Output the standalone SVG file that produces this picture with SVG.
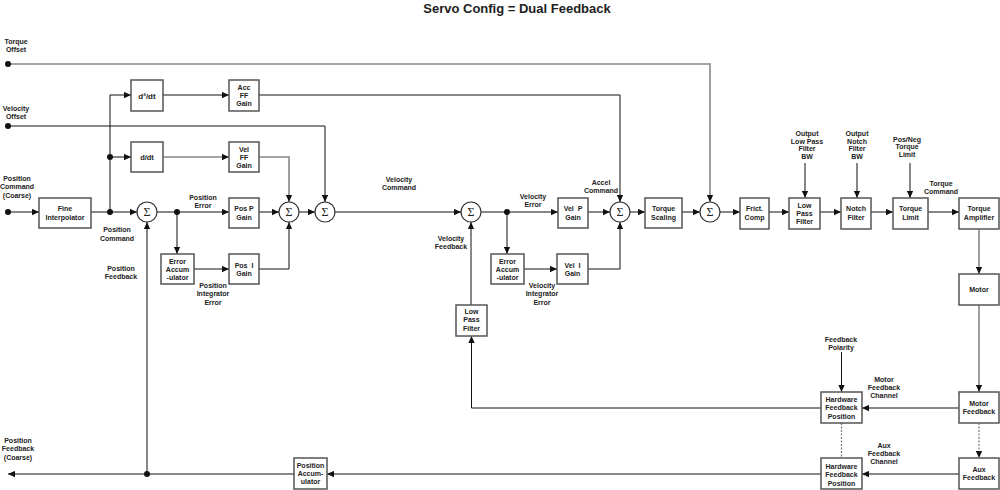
<svg xmlns="http://www.w3.org/2000/svg" width="1000" height="490" viewBox="0 0 1000 490">
<style>
.b{fill:#fff;stroke:#555;stroke-width:1.5}
.s{fill:#fff;stroke:#333;stroke-width:1.2}
.t{font-family:"Liberation Sans",Arial,sans-serif;font-weight:bold;font-size:7px;text-anchor:middle;fill:#222}
.sg{font-family:"Liberation Serif","Times New Roman",serif;font-size:12px;text-anchor:middle;fill:#222}
.k{fill:none;stroke:#111;stroke-width:1}
.g{fill:none;stroke:#888;stroke-width:1.6}
.d{fill:none;stroke:#777;stroke-width:1.2;stroke-dasharray:2,1.5}
.dot{fill:#111}
.ttl{font-family:"Liberation Sans",Arial,sans-serif;font-weight:bold;font-size:13px;text-anchor:middle;fill:#222}
</style>
<defs>
<marker id="a" viewBox="0 0 10 10" refX="10" refY="5" markerWidth="7" markerHeight="7" markerUnits="userSpaceOnUse" orient="auto"><path d="M0,0.5 L10,5 L0,9.5z" fill="#111"/></marker>
</defs>
<rect width="1000" height="490" fill="#fff"/>
<text class="ttl" x="517" y="13">Servo Config = Dual Feedback</text>

<g id="connectors">
<path class="g" d="M8,64 H710 V202" marker-end="url(#a)"/>
<path class="k" d="M8,126 H325 V202" marker-end="url(#a)"/>
<path class="k" d="M8,212 H39" marker-end="url(#a)"/>
<path class="k" d="M91,212 H137" marker-end="url(#a)"/>
<path class="k" d="M110,212 V95 H131" marker-end="url(#a)"/>
<path class="k" d="M110,157 H131" marker-end="url(#a)"/>
<path class="k" d="M163,95 H229" marker-end="url(#a)"/>
<path class="g" d="M163,157 H229" marker-end="url(#a)"/>
<path class="k" d="M259,95 H620 V202" marker-end="url(#a)"/>
<path class="g" d="M259,157 H289 V202" marker-end="url(#a)"/>
<path class="k" d="M157,212 H229" marker-end="url(#a)"/>
<path class="k" d="M177,212 V254" marker-end="url(#a)"/>
<path class="k" d="M194,269 H229" marker-end="url(#a)"/>
<path class="k" d="M259,269 H289 V222" marker-end="url(#a)"/>
<path class="k" d="M259,212 H279" marker-end="url(#a)"/>
<path class="k" d="M299,212 H315" marker-end="url(#a)"/>
<path class="k" d="M335,212 H461" marker-end="url(#a)"/>
<path class="k" d="M481,212 H558" marker-end="url(#a)"/>
<path class="k" d="M507,212 V254" marker-end="url(#a)"/>
<path class="k" d="M524,269 H557" marker-end="url(#a)"/>
<path class="k" d="M588,269 H620 V222" marker-end="url(#a)"/>
<path class="k" d="M588,212 H610" marker-end="url(#a)"/>
<path class="k" d="M630,212 H645" marker-end="url(#a)"/>
<path class="k" d="M682,212 H700" marker-end="url(#a)"/>
<path class="k" d="M720,212 H740" marker-end="url(#a)"/>
<path class="k" d="M769,212 H789" marker-end="url(#a)"/>
<path class="k" d="M819,212 H841" marker-end="url(#a)"/>
<path class="k" d="M871,212 H893" marker-end="url(#a)"/>
<path class="k" d="M928,212 H959" marker-end="url(#a)"/>
<path class="k" d="M805,163 V198" marker-end="url(#a)"/>
<path class="k" d="M857,163 V198" marker-end="url(#a)"/>
<path class="k" d="M910,163 V198" marker-end="url(#a)"/>
<path class="g" d="M979,229 V274" marker-end="url(#a)"/>
<path class="g" d="M979,305 V392" marker-end="url(#a)"/>
<path class="d" d="M979,423 V458" marker-end="url(#a)"/>
<path class="k" d="M959,408 H862" marker-end="url(#a)"/>
<path class="k" d="M959,474 H862" marker-end="url(#a)"/>
<path class="k" d="M841.5,352 V392" marker-end="url(#a)"/>
<path class="d" d="M841.5,423 V458"/>
<path class="k" d="M821,408 H471.5 V336" marker-end="url(#a)"/>
<path class="k" d="M471,305 V222" marker-end="url(#a)"/>
<path class="k" d="M821,474 H327" marker-end="url(#a)"/>
<path class="k" d="M294,474 H8" marker-end="url(#a)"/>
<path class="k" d="M147,474 V222" marker-end="url(#a)"/>
<circle class="dot" cx="8" cy="64" r="3"/>
<circle class="dot" cx="8" cy="126" r="3"/>
<circle class="dot" cx="8" cy="212" r="3"/>
<circle class="dot" cx="110" cy="212" r="3"/>
<circle class="dot" cx="110" cy="157" r="3"/>
<circle class="dot" cx="177" cy="212" r="3"/>
<circle class="dot" cx="507" cy="212" r="3"/>
<circle class="dot" cx="147" cy="474" r="3"/>
</g>

<g id="labels">
<text class="t"><tspan x="16" y="44">Torque</tspan><tspan x="16" y="52">Offset</tspan></text>
<text class="t"><tspan x="16" y="110.5">Velocity</tspan><tspan x="16" y="118.5">Offset</tspan></text>
<text class="t"><tspan x="17" y="180.5">Position</tspan><tspan x="17" y="189">Command</tspan><tspan x="17" y="197.5">(Coarse)</tspan></text>
<text class="t"><tspan x="117" y="231.5">Position</tspan><tspan x="117" y="240.5">Command</tspan></text>
<text class="t"><tspan x="121" y="270.5">Position</tspan><tspan x="121" y="279">Feedback</tspan></text>
<text class="t"><tspan x="203" y="199.5">Position</tspan><tspan x="203" y="207.5">Error</tspan></text>
<text class="t"><tspan x="213" y="287.5">Position</tspan><tspan x="213" y="296">Integrator</tspan><tspan x="213" y="304.5">Error</tspan></text>
<text class="t"><tspan x="399" y="181.5">Velocity</tspan><tspan x="399" y="189.5">Command</tspan></text>
<text class="t"><tspan x="451" y="240.5">Velocity</tspan><tspan x="451" y="248.5">Feedback</tspan></text>
<text class="t"><tspan x="533" y="198.5">Velocity</tspan><tspan x="533" y="206.5">Error</tspan></text>
<text class="t"><tspan x="542" y="287.5">Velocity</tspan><tspan x="542" y="296">Integrator</tspan><tspan x="542" y="304.5">Error</tspan></text>
<text class="t"><tspan x="601" y="184.5">Accel</tspan><tspan x="601" y="192.5">Command</tspan></text>
<text class="t"><tspan x="807" y="135.5">Output</tspan><tspan x="807" y="143.5">Low Pass</tspan><tspan x="807" y="151">Filter</tspan><tspan x="807" y="158.5">BW</tspan></text>
<text class="t"><tspan x="857" y="135.5">Output</tspan><tspan x="857" y="143.5">Notch</tspan><tspan x="857" y="151">Filter</tspan><tspan x="857" y="158.5">BW</tspan></text>
<text class="t"><tspan x="907" y="141.5">Pos/Neg</tspan><tspan x="907" y="149">Torque</tspan><tspan x="907" y="156.5">Limit</tspan></text>
<text class="t"><tspan x="941" y="186">Torque</tspan><tspan x="941" y="193.5">Command</tspan></text>
<text class="t"><tspan x="841" y="341.5">Feedback</tspan><tspan x="841" y="349.5">Polarity</tspan></text>
<text class="t"><tspan x="884" y="381.5">Motor</tspan><tspan x="884" y="389.5">Feedback</tspan><tspan x="884" y="397.5">Channel</tspan></text>
<text class="t"><tspan x="884" y="448">Aux</tspan><tspan x="884" y="456">Feedback</tspan><tspan x="884" y="464">Channel</tspan></text>
<text class="t"><tspan x="18" y="442.5">Position</tspan><tspan x="18" y="451">Feedback</tspan><tspan x="18" y="459.5">(Coarse)</tspan></text>
</g>

<g id="fine-interpolator"><rect class="b" x="39" y="198" width="52" height="30"/><text class="t"><tspan x="65" y="210.5">Fine</tspan><tspan x="65" y="219.5">Interpolator</tspan></text></g>
<g id="d2dt"><rect class="b" x="131" y="80" width="32" height="31"/><text class="t" x="147" y="98.5" style="font-size:8px">d²/dt</text></g>
<g id="ddt"><rect class="b" x="131" y="142" width="32" height="30"/><text class="t" x="147" y="160" style="font-size:7.5px">d/dt</text></g>
<g id="acc-ff-gain"><rect class="b" x="229" y="80" width="30" height="31"/><text class="t"><tspan x="244" y="89.5">Acc</tspan><tspan x="244" y="97.5">FF</tspan><tspan x="244" y="105.5">Gain</tspan></text></g>
<g id="vel-ff-gain"><rect class="b" x="229" y="142" width="30" height="30"/><text class="t"><tspan x="244" y="151.5">Vel</tspan><tspan x="244" y="159.5">FF</tspan><tspan x="244" y="167.5">Gain</tspan></text></g>
<g id="pos-p-gain"><rect class="b" x="229" y="198" width="30" height="30"/><text class="t"><tspan x="244" y="210.5">Pos P</tspan><tspan x="244" y="219.5">Gain</tspan></text></g>
<g id="pos-error-accum"><rect class="b" x="161" y="254" width="33" height="30"/><text class="t"><tspan x="177.5" y="263.5">Error</tspan><tspan x="177.5" y="271.5">Accum</tspan><tspan x="177.5" y="279.5">-ulator</tspan></text></g>
<g id="pos-i-gain"><rect class="b" x="229" y="254" width="30" height="30"/><text class="t"><tspan x="244" y="267.5" xml:space="preserve">Pos  I</tspan><tspan x="244" y="275.5">Gain</tspan></text></g>
<g id="sum-pos"><circle class="s" cx="147" cy="212" r="10"/><text class="sg" x="147" y="216">Σ</text></g>
<g id="sum-velff"><circle class="s" cx="289" cy="212" r="10"/><text class="sg" x="289" y="216">Σ</text></g>
<g id="sum-veloffset"><circle class="s" cx="325" cy="212" r="10"/><text class="sg" x="325" y="216">Σ</text></g>
<g id="sum-vel"><circle class="s" cx="471" cy="212" r="10"/><text class="sg" x="471" y="216">Σ</text></g>
<g id="sum-accel"><circle class="s" cx="620" cy="212" r="10"/><text class="sg" x="620" y="216">Σ</text></g>
<g id="sum-torque"><circle class="s" cx="710" cy="212" r="10"/><text class="sg" x="710" y="216">Σ</text></g>
<g id="vel-p-gain"><rect class="b" x="558" y="198" width="30" height="30"/><text class="t"><tspan x="573" y="210.5" xml:space="preserve">Vel  P</tspan><tspan x="573" y="219.5">Gain</tspan></text></g>
<g id="vel-error-accum"><rect class="b" x="491" y="254" width="33" height="30"/><text class="t"><tspan x="507.5" y="263.5">Error</tspan><tspan x="507.5" y="271.5">Accum</tspan><tspan x="507.5" y="279.5">-ulator</tspan></text></g>
<g id="vel-i-gain"><rect class="b" x="557" y="254" width="31" height="30"/><text class="t"><tspan x="572.5" y="267.5" xml:space="preserve">Vel  I</tspan><tspan x="572.5" y="275.5">Gain</tspan></text></g>
<g id="torque-scaling"><rect class="b" x="645" y="198" width="37" height="30"/><text class="t"><tspan x="663.5" y="210.5">Torque</tspan><tspan x="663.5" y="219.5">Scaling</tspan></text></g>
<g id="frict-comp"><rect class="b" x="740" y="198" width="29" height="31"/><text class="t"><tspan x="754.5" y="210.5">Frict.</tspan><tspan x="754.5" y="219.5">Comp</tspan></text></g>
<g id="low-pass-filter-out"><rect class="b" x="789" y="198" width="31" height="31"/><text class="t"><tspan x="804.5" y="207.5">Low</tspan><tspan x="804.5" y="215.5">Pass</tspan><tspan x="804.5" y="223.5">Filter</tspan></text></g>
<g id="notch-filter"><rect class="b" x="841" y="198" width="30" height="31"/><text class="t"><tspan x="856" y="210.5">Notch</tspan><tspan x="856" y="219.5">Filter</tspan></text></g>
<g id="torque-limit"><rect class="b" x="893" y="198" width="35" height="31"/><text class="t"><tspan x="910.5" y="210.5">Torque</tspan><tspan x="910.5" y="219.5">Limit</tspan></text></g>
<g id="torque-amplifier"><rect class="b" x="959" y="198" width="40" height="31"/><text class="t"><tspan x="979" y="210.5">Torque</tspan><tspan x="979" y="219.5">Amplifier</tspan></text></g>
<g id="motor"><rect class="b" x="959" y="274" width="40" height="31"/><text class="t" x="979" y="292">Motor</text></g>
<g id="low-pass-filter-vel"><rect class="b" x="456" y="305" width="31" height="31"/><text class="t"><tspan x="471.5" y="313.5">Low</tspan><tspan x="471.5" y="322">Pass</tspan><tspan x="471.5" y="330.5">Filter</tspan></text></g>
<g id="hw-feedback-motor"><rect class="b" x="821" y="392" width="41" height="31"/><text class="t"><tspan x="841.5" y="401.5">Hardware</tspan><tspan x="841.5" y="410">Feedback</tspan><tspan x="841.5" y="418.5">Position</tspan></text></g>
<g id="motor-feedback"><rect class="b" x="959" y="392" width="40" height="31"/><text class="t"><tspan x="979" y="405.5">Motor</tspan><tspan x="979" y="414">Feedback</tspan></text></g>
<g id="hw-feedback-aux"><rect class="b" x="821" y="458" width="41" height="31"/><text class="t"><tspan x="841.5" y="468.5">Hardware</tspan><tspan x="841.5" y="477">Feedback</tspan><tspan x="841.5" y="485.5">Position</tspan></text></g>
<g id="aux-feedback"><rect class="b" x="959" y="458" width="40" height="31"/><text class="t"><tspan x="979" y="471.5">Aux</tspan><tspan x="979" y="480">Feedback</tspan></text></g>
<g id="position-accumulator"><rect class="b" x="294" y="458" width="33" height="31"/><text class="t"><tspan x="310.5" y="467.5">Position</tspan><tspan x="310.5" y="475.5">Accum-</tspan><tspan x="310.5" y="483.5">ulator</tspan></text></g>
</svg>
